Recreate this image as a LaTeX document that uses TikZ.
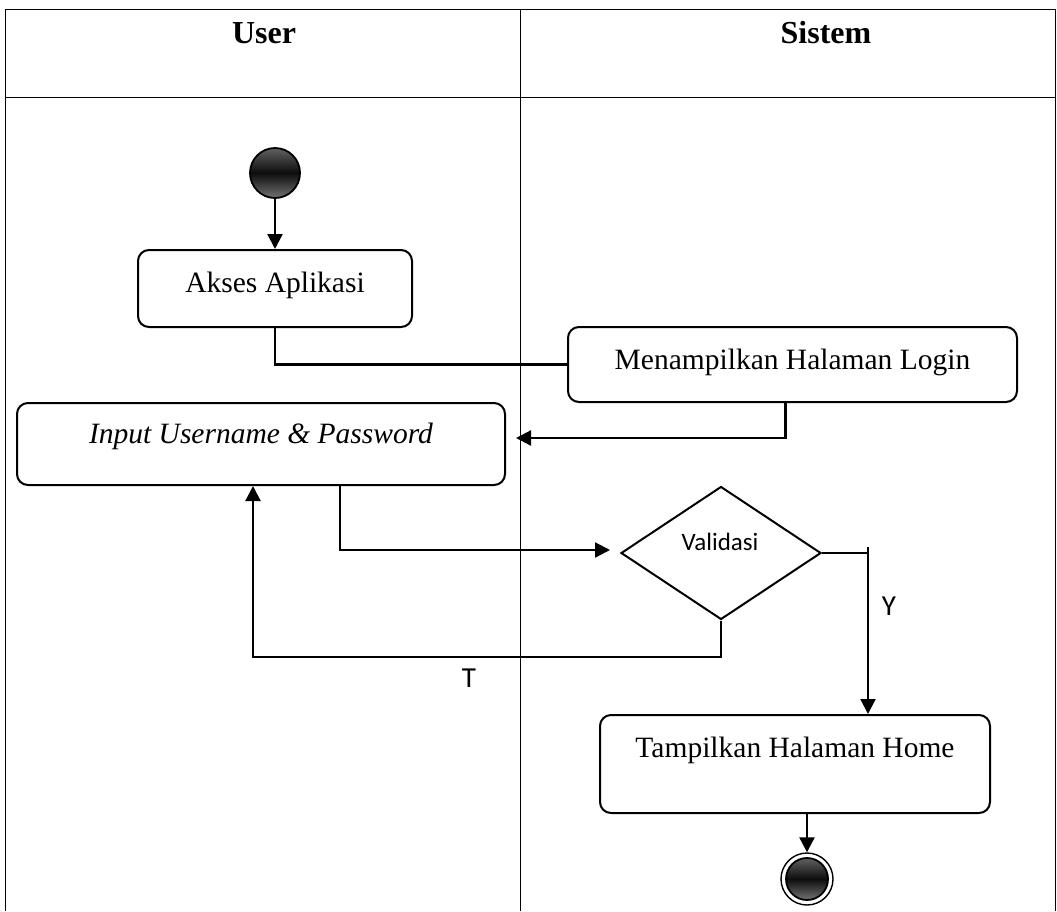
\documentclass[tikz,border=0pt]{standalone}
\usepackage{fontspec}
\setmainfont{Liberation Serif}
\newfontfamily\lblfont{Carlito}
\usetikzlibrary{arrows.meta,shapes.geometric,calc}
\tikzset{
  lane/.style={line width=1pt},
  actbox/.style={draw, line width=2pt, rounded corners=11pt, inner sep=0pt, align=center,
    font=\fontsize{29.5}{32}\selectfont},
  conn/.style={line width=2.2pt},
  arr/.style={conn, -{Triangle[length=15pt,width=15pt]}},
  sanslbl/.style={font=\lblfont\fontsize{29}{32}\selectfont, inner sep=0pt},
  dotshade/.style={top color=black!62, bottom color=black!55, middle color=black!95, draw=black, line width=1.8pt},
  header/.style={font=\bfseries\fontsize{32}{34}\selectfont, inner sep=0pt, anchor=base}
}
\begin{document}
\begin{tikzpicture}[x=1pt,y=-1pt]
\useasboundingbox (0,0) rectangle (1057,911);
% swimlane table
\draw[lane] (5,911) -- (5,9) -- (1055.5,9) -- (1055.5,911);
\draw[lane] (5,97) -- (1055.5,97);
\draw[lane] (520,9) -- (520,911);
\node[header] (huser) at (264,43) {User};
\node[header] (hsis) at (826,43) {Sistem};

% start node
\node[circle, dotshade, minimum size=50pt, inner sep=0pt] (start) at (275,173) {};

% activities
\node[actbox, minimum width=274pt, text height=42pt, text depth=35pt] (akses) at (275,288.5) {Akses Aplikasi};
\node[actbox, minimum width=449pt, text height=42pt, text depth=33pt] (login) at (792.5,364.5) {Menampilkan Halaman Login};
\node[actbox, minimum width=488pt, text height=40pt, text depth=42pt] (input) at (261,444) {\itshape Input Username \& Password};
\node[actbox, minimum width=390pt, text height=42pt, text depth=56pt] (home) at (795,764) {Tampilkan Halaman Home};

% decision
\node[diamond, draw, line width=2pt, minimum width=200pt, minimum height=133pt, inner sep=0pt, aspect=1.5] (dec) at (721,553) {};
\node[sanslbl, font=\lblfont\fontsize{25}{28}\selectfont] (vlbl) at (720,542) {Validasi};

% end node
\node[circle, draw=black, line width=1.4pt, fill=white, minimum size=52pt, inner sep=0pt] (end) at (807,879) {};
\node[circle, dotshade, minimum size=42pt, inner sep=0pt] (endin) at (end.center) {};

% helper coordinates
\coordinate (yc) at (868,547);
\coordinate (tcor) at (0,657);

% connectors
\draw[arr] (start.south) -- (akses.north);
\draw[conn] (akses.south) |- (login.west);
\draw[arr] ([xshift=-7pt]login.south) |- ([xshift=10pt,yshift=6pt]input.east);
\draw[arr] ([xshift=79pt]input.south) |- ([xshift=-10pt,yshift=3pt]dec.west);
\draw[conn] (dec.east) -- (dec.east -| yc);
\draw[arr] (yc) -- (yc |- home.north);
\draw[arr] (dec.south) -- (dec.south |- tcor) -| ([xshift=-8pt]input.south);
\draw[arr] ([xshift=12pt]home.south) -- (end.north);

% guard labels
\node[sanslbl] (ylbl) at (889,606) {Y};
\node[sanslbl] (tlbl) at (469,678) {T};
\end{tikzpicture}
\end{document}
